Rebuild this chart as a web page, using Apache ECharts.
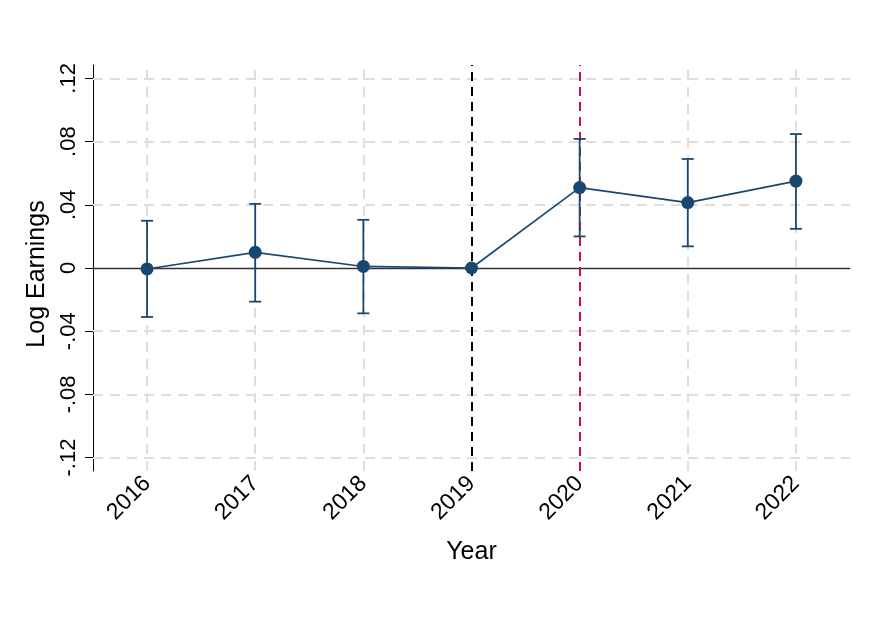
<!DOCTYPE html>
<html><head><meta charset="utf-8">
<script src="https://cdn.jsdelivr.net/npm/echarts@6/dist/echarts.min.js"></script>
<style>html,body{margin:0;padding:0;background:#fff}#c{width:874px;height:636px}</style>
</head><body><div id="c"></div>
<script>
const years = ['2016','2017','2018','2019','2020','2021','2022'];
const estimates = [-0.0006, 0.0099, 0.001, 0.0, 0.0509, 0.0414, 0.055];
const ciLower = [-0.031, -0.0213, -0.0287, null, 0.020, 0.0137, 0.0248];
const ciUpper = [0.0299, 0.0406, 0.0305, null, 0.0817, 0.069, 0.0848];
const yTicks = [-0.12, -0.08, -0.04, 0, 0.04, 0.08, 0.12];

const navy = '#1a476f';
const font = 'Liberation Sans, Arial, sans-serif';
function fmt(v){
  if (Math.abs(v) < 1e-9) return '0';
  let s = (Math.round(v*100)/100).toFixed(2);
  return s.replace('0.', '.');
}
const ciData = [];
years.forEach((y,i)=>{ if(ciLower[i]!==null) ciData.push([i, ciLower[i], ciUpper[i]]); });

const chart = echarts.init(document.getElementById('c'), null, {renderer:'canvas'});
chart.setOption({
  backgroundColor:'#fff',
  animation:false,
  grid:{left:93, right:24, top:65, bottom:165},
  xAxis:{
    type:'category', data:years, boundaryGap:true,
    name:'Year', nameLocation:'middle', nameGap:69,
    nameTextStyle:{fontFamily:font, fontSize:25, color:'#000'},
    axisLine:{lineStyle:{color:'#000', width:1}},
    axisTick:{alignWithLabel:true, length:7, lineStyle:{color:'#000'}},
    axisLabel:{rotate:45, fontFamily:font, fontSize:23, color:'#000', margin:9},
    splitLine:{show:false}
  },
  yAxis:{
    type:'value', min:-0.1285, max:0.1285,
    name:'Log Earnings', nameLocation:'middle', nameGap:39,
    nameTextStyle:{fontFamily:font, fontSize:25, color:'#000', padding:[0,12,0,0]},
    axisLine:{show:true, lineStyle:{color:'#000', width:1}},
    axisTick:{show:true, length:8, customValues:yTicks, lineStyle:{color:'#000'}},
    axisLabel:{rotate:90, fontFamily:font, fontSize:22, color:'#000', customValues:yTicks, formatter:fmt, margin:13},
    splitLine:{show:false}
  },
  series:[
    {
      type:'line', data:[], silent:true, zlevel:0, z:1,
      markLine:{
        silent:true, symbol:'none', label:{show:false},
        lineStyle:{color:'#dedede', type:[10,7], width:2},
        data: yTicks.filter(v=>v!==0).map(v=>({yAxis:v}))
          .concat(['2016','2017','2018','2021','2022'].map(v=>({xAxis:v})))
      }
    },
    {
      type:'line', data:[], silent:true, zlevel:0, z:2,
      markLine:{
        silent:true, symbol:'none', label:{show:false},
        data:[
          {yAxis:0, lineStyle:{color:'#333', type:'solid', width:1.3}},
          {xAxis:'2019', lineStyle:{color:'#000', type:[9,6], width:2}},
          {xAxis:'2020', lineStyle:{color:'#d0103a', type:[9,6], width:2}}
        ]
      }
    },
    {
      type:'custom', zlevel:1, z:3, data:ciData,
      renderItem:function(params, api){
        const x = api.value(0);
        const lo = api.coord([x, api.value(1)]);
        const hi = api.coord([x, api.value(2)]);
        const hw = 6;
        const st = {stroke:navy, lineWidth:1.8, lineDash:null};
        return {type:'group', children:[
          {type:'line', shape:{x1:lo[0], y1:lo[1], x2:hi[0], y2:hi[1]}, style:st},
          {type:'line', shape:{x1:lo[0]-hw, y1:lo[1], x2:lo[0]+hw, y2:lo[1]}, style:st},
          {type:'line', shape:{x1:hi[0]-hw, y1:hi[1], x2:hi[0]+hw, y2:hi[1]}, style:st}
        ]};
      }
    },
    {
      type:'line', zlevel:1, z:4, data:estimates, symbol:'circle', symbolSize:13,
      itemStyle:{color:navy}, lineStyle:{color:navy, width:1.6}
    }
  ]
});
</script></body></html>
